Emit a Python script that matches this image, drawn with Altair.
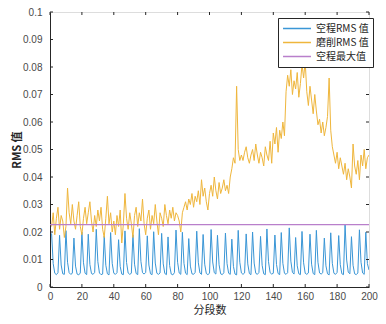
import altair as alt
import pandas as pd

# ---------------- data ----------------
x_vals = list(range(1, 201))

blue_vals = [
    0.0195, 0.0085, 0.0050, 0.0045, 0.0052, 0.0188, 0.0080, 0.0048, 0.0046, 0.0205,
    0.0090, 0.0052, 0.0046, 0.0050, 0.0178, 0.0076, 0.0047, 0.0044, 0.0051, 0.0200,
    0.0088, 0.0050, 0.0045, 0.0192, 0.0082, 0.0049, 0.0046, 0.0053, 0.0210, 0.0092,
    0.0051, 0.0045, 0.0047, 0.0185, 0.0079, 0.0048, 0.0044, 0.0198, 0.0086, 0.0050,
    0.0046, 0.0052, 0.0172, 0.0075, 0.0047, 0.0045, 0.0204, 0.0089, 0.0051, 0.0046,
    0.0050, 0.0190, 0.0083, 0.0049, 0.0045, 0.0212, 0.0093, 0.0052, 0.0047, 0.0053,
    0.0186, 0.0080, 0.0048, 0.0045, 0.0201, 0.0087, 0.0050, 0.0046, 0.0051, 0.0195,
    0.0084, 0.0049, 0.0045, 0.0182, 0.0078, 0.0047, 0.0044, 0.0052, 0.0207, 0.0090,
    0.0051, 0.0046, 0.0199, 0.0086, 0.0050, 0.0045, 0.0176, 0.0076, 0.0048, 0.0046,
    0.0053, 0.0203, 0.0088, 0.0051, 0.0046, 0.0191, 0.0083, 0.0049, 0.0045, 0.0050,
    0.0209, 0.0091, 0.0052, 0.0047, 0.0188, 0.0081, 0.0048, 0.0045, 0.0052, 0.0196,
    0.0085, 0.0050, 0.0046, 0.0174, 0.0075, 0.0047, 0.0044, 0.0206, 0.0090, 0.0051,
    0.0046, 0.0051, 0.0193, 0.0084, 0.0049, 0.0045, 0.0200, 0.0087, 0.0050, 0.0046,
    0.0053, 0.0184, 0.0079, 0.0048, 0.0045, 0.0211, 0.0092, 0.0052, 0.0047, 0.0050,
    0.0189, 0.0082, 0.0049, 0.0045, 0.0198, 0.0086, 0.0050, 0.0046, 0.0052, 0.0215,
    0.0094, 0.0053, 0.0047, 0.0180, 0.0077, 0.0048, 0.0045, 0.0202, 0.0088, 0.0050,
    0.0046, 0.0051, 0.0192, 0.0083, 0.0049, 0.0045, 0.0206, 0.0090, 0.0051, 0.0047,
    0.0052, 0.0178, 0.0077, 0.0048, 0.0044, 0.0197, 0.0086, 0.0050, 0.0046, 0.0053,
    0.0187, 0.0081, 0.0048, 0.0045, 0.0227, 0.0098, 0.0054, 0.0048, 0.0183, 0.0079,
    0.0048, 0.0045, 0.0051, 0.0208, 0.0090, 0.0051, 0.0046, 0.0199, 0.0085, 0.0062,
]

orange_vals = [
    0.022, 0.027, 0.019, 0.025, 0.029, 0.021, 0.026, 0.024, 0.018, 0.022,
    0.036, 0.027, 0.023, 0.030, 0.024, 0.021, 0.026, 0.031, 0.022, 0.019,
    0.025, 0.029, 0.023, 0.027, 0.031, 0.024, 0.020, 0.026, 0.022, 0.028,
    0.024, 0.029, 0.021, 0.018, 0.025, 0.033, 0.023, 0.027, 0.020, 0.024,
    0.019, 0.026, 0.022, 0.028, 0.016, 0.023, 0.034, 0.025, 0.021, 0.027,
    0.023, 0.018, 0.026, 0.029, 0.022, 0.027, 0.024, 0.032, 0.023, 0.019,
    0.025, 0.028, 0.021, 0.026, 0.023, 0.030, 0.024, 0.019, 0.027, 0.025,
    0.022, 0.030, 0.026, 0.023, 0.028, 0.025, 0.029, 0.024, 0.027, 0.026,
    0.024, 0.020, 0.027, 0.029, 0.031, 0.028, 0.032, 0.030, 0.034, 0.029,
    0.033, 0.031, 0.035, 0.030, 0.039, 0.033, 0.036, 0.031, 0.028, 0.034,
    0.037, 0.033, 0.040, 0.035, 0.032, 0.038, 0.034, 0.036, 0.039, 0.035,
    0.037, 0.034, 0.040, 0.043, 0.047, 0.045, 0.073, 0.050, 0.046, 0.048,
    0.046, 0.049, 0.051, 0.047, 0.045, 0.048, 0.050, 0.046, 0.052, 0.048,
    0.045, 0.049, 0.047, 0.044, 0.051, 0.048, 0.046, 0.053, 0.045, 0.056,
    0.052, 0.058, 0.049, 0.057, 0.054, 0.060, 0.055, 0.071, 0.077, 0.073,
    0.079, 0.070, 0.075, 0.072, 0.078, 0.069, 0.074, 0.081, 0.076, 0.082,
    0.071, 0.066, 0.073, 0.068, 0.063, 0.070, 0.064, 0.059, 0.061, 0.056,
    0.060, 0.055, 0.058, 0.062, 0.076, 0.057, 0.051, 0.048, 0.045, 0.049,
    0.043, 0.047, 0.044, 0.041, 0.045, 0.039, 0.043, 0.040, 0.036, 0.052,
    0.044, 0.041, 0.046, 0.039, 0.048, 0.044, 0.050, 0.043, 0.047, 0.048,
]

series_names = ["空程RMS 值", "磨削RMS 值", "空程最大值"]
series_colors = ["#3a96d6", "#efb63c", "#b97fcb"]

x_ticks = [0, 20, 40, 60, 80, 100, 120, 140, 160, 180, 200]
y_ticks = [0, 0.01, 0.02, 0.03, 0.04, 0.05, 0.06, 0.07, 0.08, 0.09, 0.1]

max_val = max(blue_vals)

df_blue = pd.DataFrame({"x": x_vals, "y": blue_vals, "s": series_names[0]})
df_orange = pd.DataFrame({"x": x_vals, "y": orange_vals, "s": series_names[1]})
df_max = pd.DataFrame({"x": [0, 200], "y": [max_val, max_val], "s": series_names[2]})

W, H = 319, 275
FONT = "Liberation Sans"
CJK = "Noto Sans CJK SC"

xscale = alt.Scale(domain=[0, 200], nice=False, zero=False)
yscale = alt.Scale(domain=[0, 0.1], nice=False)
cscale = alt.Scale(domain=series_names, range=series_colors)

x_axis = alt.Axis(values=x_ticks, title="分段数", ticks=False, grid=False,
                  labelFontSize=10, labelFont=FONT, labelColor="#4a4a4a",
                  labelPadding=4, titleFont=CJK, titleFontSize=11,
                  titleFontWeight="normal", titleColor="#262626", titlePadding=3,
                  domainColor="#262626", labelFlush=False)
y_axis = alt.Axis(values=y_ticks, title="RMS 值", ticks=False, grid=False,
                  labelFontSize=10, labelFont=FONT, labelColor="#4a4a4a",
                  labelPadding=8, titleFont=CJK, titleFontSize=11,
                  titleFontWeight="bold", titleColor="#262626", titlePadding=0,
                  domainColor="#262626", format="~g")

legend = alt.Legend(title=None, orient="none", legendX=228, legendY=6,
                    symbolType="stroke", symbolSize=780, symbolStrokeWidth=1.3,
                    labelFont=CJK, labelFontSize=10, labelColor="#262626",
                    strokeColor="#262626", fillColor="white", padding=4,
                    rowPadding=1, clipHeight=13, labelOffset=4, symbolOffset=0,
                    columns=1)

def line_layer(df, width=1.0):
    return alt.Chart(df).mark_line(strokeWidth=width, clip=True).encode(
        x=alt.X("x:Q", scale=xscale, axis=x_axis),
        y=alt.Y("y:Q", scale=yscale, axis=y_axis),
        color=alt.Color("s:N", scale=cscale, legend=legend, sort=series_names),
    )

blue = line_layer(df_blue)
orange = line_layer(df_orange)
purple = line_layer(df_max, 1.3)

# inward tick marks on all four sides
df_xt = pd.DataFrame({"t": x_ticks})
df_yt = pd.DataFrame({"t": y_ticks})
tick_color = "#262626"
xt_bottom = alt.Chart(df_xt).mark_rule(color=tick_color, strokeWidth=1).encode(
    x=alt.X("t:Q", scale=xscale, axis=x_axis), y=alt.value(H), y2=alt.value(H - 3))
xt_top = alt.Chart(df_xt).mark_rule(color=tick_color, strokeWidth=1).encode(
    x=alt.X("t:Q", scale=xscale, axis=x_axis), y=alt.value(0), y2=alt.value(3))
yt_left = alt.Chart(df_yt).mark_rule(color=tick_color, strokeWidth=1).encode(
    y=alt.Y("t:Q", scale=yscale, axis=y_axis), x=alt.value(0), x2=alt.value(3))
yt_right = alt.Chart(df_yt).mark_rule(color=tick_color, strokeWidth=1).encode(
    y=alt.Y("t:Q", scale=yscale, axis=y_axis), x=alt.value(W), x2=alt.value(W - 3))

chart = alt.layer(blue, orange, purple, xt_bottom, xt_top, yt_left, yt_right).properties(
    width=W, height=H,
    autosize=alt.AutoSizeParams(type="none"),
    padding={"left": 42, "top": 4, "right": 9, "bottom": 29},
).configure_view(stroke="#262626", strokeWidth=1).configure(background="white")

chart.save("out.html", embed_options={"renderer": "svg", "actions": False})
